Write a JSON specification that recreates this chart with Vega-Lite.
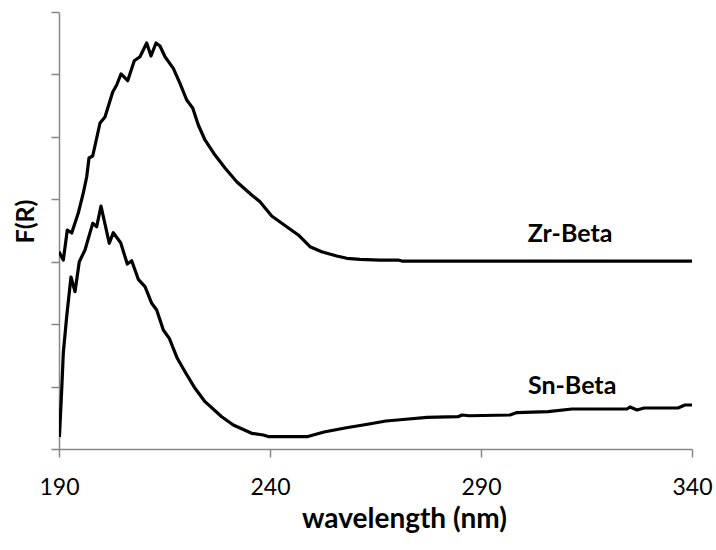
{
  "$schema": "https://vega.github.io/schema/vega-lite/v6.json",
  "width": 633,
  "height": 437,
  "autosize": {"type": "none"},
  "padding": {"left": 59, "top": 12, "right": 24, "bottom": 101},
  "background": "white",
  "config": {
    "view": {"stroke": null},
    "font": "Lato"
  },
  "layer": [
    {
      "data": {
        "values": [
          {"series": "Zr-Beta", "wl": 190.0, "fr": 3.160},
          {"series": "Zr-Beta", "wl": 191.02, "fr": 3.027},
          {"series": "Zr-Beta", "wl": 191.97, "fr": 3.508},
          {"series": "Zr-Beta", "wl": 193.01, "fr": 3.460},
          {"series": "Zr-Beta", "wl": 194.57, "fr": 3.780},
          {"series": "Zr-Beta", "wl": 195.76, "fr": 4.101},
          {"series": "Zr-Beta", "wl": 196.56, "fr": 4.357},
          {"series": "Zr-Beta", "wl": 197.11, "fr": 4.661},
          {"series": "Zr-Beta", "wl": 197.99, "fr": 4.693},
          {"series": "Zr-Beta", "wl": 199.72, "fr": 5.222},
          {"series": "Zr-Beta", "wl": 200.90, "fr": 5.318},
          {"series": "Zr-Beta", "wl": 202.73, "fr": 5.718},
          {"series": "Zr-Beta", "wl": 203.67, "fr": 5.831},
          {"series": "Zr-Beta", "wl": 204.69, "fr": 6.007},
          {"series": "Zr-Beta", "wl": 206.28, "fr": 5.899},
          {"series": "Zr-Beta", "wl": 207.84, "fr": 6.220},
          {"series": "Zr-Beta", "wl": 209.19, "fr": 6.284},
          {"series": "Zr-Beta", "wl": 210.78, "fr": 6.503},
          {"series": "Zr-Beta", "wl": 211.80, "fr": 6.295},
          {"series": "Zr-Beta", "wl": 212.99, "fr": 6.503},
          {"series": "Zr-Beta", "wl": 213.93, "fr": 6.455},
          {"series": "Zr-Beta", "wl": 215.12, "fr": 6.284},
          {"series": "Zr-Beta", "wl": 217.09, "fr": 6.098},
          {"series": "Zr-Beta", "wl": 218.67, "fr": 5.858},
          {"series": "Zr-Beta", "wl": 220.26, "fr": 5.590},
          {"series": "Zr-Beta", "wl": 221.68, "fr": 5.462},
          {"series": "Zr-Beta", "wl": 223.01, "fr": 5.190},
          {"series": "Zr-Beta", "wl": 224.60, "fr": 4.950},
          {"series": "Zr-Beta", "wl": 226.97, "fr": 4.709},
          {"series": "Zr-Beta", "wl": 229.34, "fr": 4.501},
          {"series": "Zr-Beta", "wl": 232.11, "fr": 4.282},
          {"series": "Zr-Beta", "wl": 235.66, "fr": 4.069},
          {"series": "Zr-Beta", "wl": 237.63, "fr": 3.961},
          {"series": "Zr-Beta", "wl": 240.40, "fr": 3.732},
          {"series": "Zr-Beta", "wl": 243.96, "fr": 3.561},
          {"series": "Zr-Beta", "wl": 246.71, "fr": 3.428},
          {"series": "Zr-Beta", "wl": 249.48, "fr": 3.240},
          {"series": "Zr-Beta", "wl": 252.25, "fr": 3.160},
          {"series": "Zr-Beta", "wl": 255.81, "fr": 3.091},
          {"series": "Zr-Beta", "wl": 258.18, "fr": 3.055},
          {"series": "Zr-Beta", "wl": 261.33, "fr": 3.039},
          {"series": "Zr-Beta", "wl": 266.07, "fr": 3.027},
          {"series": "Zr-Beta", "wl": 270.33, "fr": 3.027},
          {"series": "Zr-Beta", "wl": 271.28, "fr": 3.011},
          {"series": "Zr-Beta", "wl": 340.0, "fr": 3.011},
          {"series": "Sn-Beta", "wl": 190.1, "fr": 0.192},
          {"series": "Sn-Beta", "wl": 190.64, "fr": 0.945},
          {"series": "Sn-Beta", "wl": 191.02, "fr": 1.538},
          {"series": "Sn-Beta", "wl": 191.82, "fr": 2.119},
          {"series": "Sn-Beta", "wl": 192.84, "fr": 2.755},
          {"series": "Sn-Beta", "wl": 193.79, "fr": 2.520},
          {"series": "Sn-Beta", "wl": 194.81, "fr": 3.000},
          {"series": "Sn-Beta", "wl": 196.16, "fr": 3.188},
          {"series": "Sn-Beta", "wl": 197.99, "fr": 3.615},
          {"series": "Sn-Beta", "wl": 198.93, "fr": 3.561},
          {"series": "Sn-Beta", "wl": 199.95, "fr": 3.892},
          {"series": "Sn-Beta", "wl": 201.92, "fr": 3.295},
          {"series": "Sn-Beta", "wl": 202.87, "fr": 3.465},
          {"series": "Sn-Beta", "wl": 204.62, "fr": 3.305},
          {"series": "Sn-Beta", "wl": 206.18, "fr": 2.963},
          {"series": "Sn-Beta", "wl": 207.23, "fr": 3.016},
          {"series": "Sn-Beta", "wl": 208.79, "fr": 2.718},
          {"series": "Sn-Beta", "wl": 210.38, "fr": 2.600},
          {"series": "Sn-Beta", "wl": 211.97, "fr": 2.334},
          {"series": "Sn-Beta", "wl": 213.15, "fr": 2.227},
          {"series": "Sn-Beta", "wl": 214.72, "fr": 1.906},
          {"series": "Sn-Beta", "wl": 216.14, "fr": 1.773},
          {"series": "Sn-Beta", "wl": 218.03, "fr": 1.453},
          {"series": "Sn-Beta", "wl": 219.86, "fr": 1.238},
          {"series": "Sn-Beta", "wl": 222.23, "fr": 0.972},
          {"series": "Sn-Beta", "wl": 224.60, "fr": 0.758},
          {"series": "Sn-Beta", "wl": 228.55, "fr": 0.517},
          {"series": "Sn-Beta", "wl": 231.30, "fr": 0.384},
          {"series": "Sn-Beta", "wl": 235.66, "fr": 0.251},
          {"series": "Sn-Beta", "wl": 238.41, "fr": 0.224},
          {"series": "Sn-Beta", "wl": 239.76, "fr": 0.197},
          {"series": "Sn-Beta", "wl": 248.77, "fr": 0.197},
          {"series": "Sn-Beta", "wl": 252.80, "fr": 0.272},
          {"series": "Sn-Beta", "wl": 257.77, "fr": 0.336},
          {"series": "Sn-Beta", "wl": 263.46, "fr": 0.400},
          {"series": "Sn-Beta", "wl": 267.49, "fr": 0.449},
          {"series": "Sn-Beta", "wl": 271.52, "fr": 0.473},
          {"series": "Sn-Beta", "wl": 277.21, "fr": 0.506},
          {"series": "Sn-Beta", "wl": 284.55, "fr": 0.517},
          {"series": "Sn-Beta", "wl": 285.50, "fr": 0.545},
          {"series": "Sn-Beta", "wl": 287.16, "fr": 0.533},
          {"series": "Sn-Beta", "wl": 296.87, "fr": 0.545},
          {"series": "Sn-Beta", "wl": 298.53, "fr": 0.583},
          {"series": "Sn-Beta", "wl": 305.88, "fr": 0.599},
          {"series": "Sn-Beta", "wl": 311.57, "fr": 0.641},
          {"series": "Sn-Beta", "wl": 324.60, "fr": 0.641},
          {"series": "Sn-Beta", "wl": 325.31, "fr": 0.673},
          {"series": "Sn-Beta", "wl": 326.97, "fr": 0.625},
          {"series": "Sn-Beta", "wl": 328.63, "fr": 0.657},
          {"series": "Sn-Beta", "wl": 336.68, "fr": 0.657},
          {"series": "Sn-Beta", "wl": 338.34, "fr": 0.705},
          {"series": "Sn-Beta", "wl": 340.0, "fr": 0.705}
        ]
      },
      "mark": {"type": "line", "color": "black", "strokeWidth": 3.2, "strokeJoin": "round", "clip": true},
      "encoding": {
        "x": {
          "field": "wl", "type": "quantitative",
          "scale": {"domain": [190, 340], "nice": false, "zero": false},
          "axis": {
            "title": "wavelength (nm)",
            "values": [190, 240, 290, 340],
            "grid": false,
            "domainColor": "#878787", "domainWidth": 1.5,
            "tickColor": "#878787", "tickWidth": 1.5, "tickSize": 8,
            "labelFont": "Lato", "labelFontSize": 23, "labelColor": "#000000",
            "labelPadding": 19, "labelFlush": false,
            "titleFont": "Lato", "titleFontSize": 28, "titleFontWeight": "bold", "titleColor": "#000000",
            "titleX": 345, "titleY": 78, "titleAlign": "center", "titleBaseline": "alphabetic"
          }
        },
        "y": {
          "field": "fr", "type": "quantitative",
          "scale": {"domain": [0, 7], "nice": false},
          "axis": {
            "title": "F(R)",
            "values": [0, 1, 2, 3, 4, 5, 6, 7],
            "labels": false,
            "grid": false,
            "domainColor": "#878787", "domainWidth": 1.5,
            "tickColor": "#878787", "tickWidth": 1.5, "tickSize": 8,
            "titleFont": "Lato", "titleFontSize": 25, "titleFontWeight": "bold", "titleColor": "#000000",
            "titleAngle": -90, "titleX": -26, "titleY": 209, "titleAlign": "center", "titleBaseline": "alphabetic"
          }
        },
        "detail": {"field": "series"}
      }
    },
    {
      "data": {
        "values": [
          {"label": "Zr-Beta", "wl": 311.1, "fr": 3.32},
          {"label": "Sn-Beta", "wl": 311.6, "fr": 0.875}
        ]
      },
      "mark": {"type": "text", "font": "Lato", "fontSize": 25, "fontWeight": "bold", "color": "black", "align": "center", "baseline": "alphabetic"},
      "encoding": {
        "x": {"field": "wl", "type": "quantitative"},
        "y": {"field": "fr", "type": "quantitative"},
        "text": {"field": "label"}
      }
    }
  ]
}
